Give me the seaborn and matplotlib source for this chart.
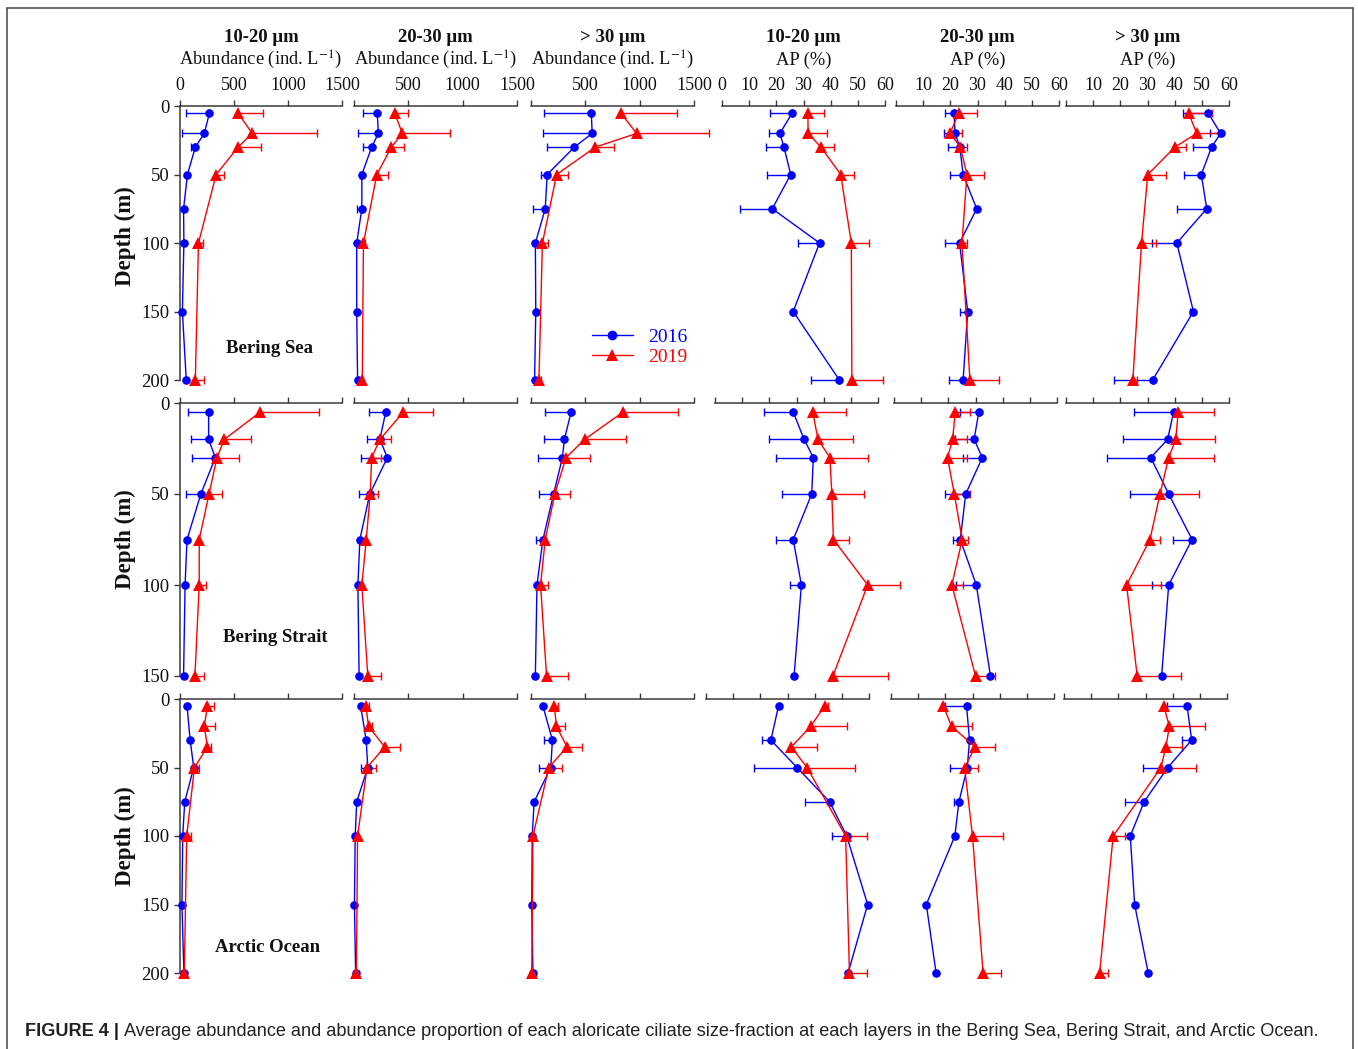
import matplotlib
matplotlib.use("Agg")
import numpy as np
import pandas as pd
import seaborn as sns
import matplotlib.pyplot as plt
from matplotlib.lines import Line2D

# ---------------------------------------------------------------- data
# Sampling depths (m)
BS_DEPTH_2016 = [5, 20, 30, 50, 75, 100, 150, 200]
BS_DEPTH_2019 = [5, 20, 30, 50, 100, 200]
BST_DEPTH_2016 = [5, 20, 30, 50, 75, 100, 150]
BST_DEPTH_2019 = [5, 20, 30, 50, 75, 100, 150]
AO_DEPTH_2016 = [5, 30, 50, 75, 100, 150, 200]
AO_DEPTH_2019 = [5, 20, 35, 50, 100, 200]

# Panel order: abundance 10-20, 20-30, >30 um; AP 10-20, 20-30, >30 um
BS_MEAN_2016 = [
    [273, 225, 142, 69, 33, 36, 22, 58],
    [214, 224, 163, 72, 72, 25, 25, 33],
    [555, 563, 399, 149, 131, 40, 44, 33],
    [25.9, 21.3, 22.8, 25.3, 18.5, 35.9, 26.2, 43.2],
    [21.4, 21.7, 23.5, 24.7, 29.7, 23.4, 26.4, 24.7],
    [52.3, 56.9, 53.6, 49.8, 51.8, 40.8, 46.9, 31.9],
]
BS_SD_2016 = [
    [218, 210, 44, 0, 0, 0, 0, 0],
    [127, 184, 83, 20, 47, 0, 0, 0],
    [435, 454, 254, 58, 109, 0, 0, 0],
    [8.4, 4.0, 6.6, 8.9, 12.0, 8.1, 0.6, 10.5],
    [3.2, 3.9, 4.5, 4.7, 0, 5.5, 3.0, 5.1],
    [9.2, 4.0, 6.8, 6.3, 11.1, 9.0, 1.2, 14.1],
]
BS_MEAN_2019 = [
    [535, 669, 538, 335, 171, 142],
    [373, 445, 344, 210, 87, 76],
    [824, 973, 592, 236, 105, 73],
    [31.6, 31.7, 36.4, 43.7, 47.6, 47.8],
    [23.1, 19.9, 23.7, 26.1, 24.3, 27.2],
    [45.1, 48.1, 40.1, 30.1, 27.8, 24.6],
]
BS_SD_2019 = [
    [229, 604, 211, 76, 44, 76],
    [123, 435, 112, 105, 15, 10],
    [519, 661, 174, 109, 47, 15],
    [6.1, 6.8, 5.0, 4.8, 6.4, 11.3],
    [6.6, 4.4, 2.4, 6.2, 1.7, 10.6],
    [8.8, 8.4, 4.1, 6.8, 5.5, 1.5],
]

BST_MEAN_2016 = [
    [265, 265, 327, 193, 65, 47, 33],
    [292, 238, 307, 145, 54, 36, 47],
    [369, 307, 289, 208, 110, 55, 40],
    [28.8, 32.8, 36.2, 35.6, 28.8, 31.8, 29.1],
    [31.2, 29.5, 32.5, 26.4, 24.4, 30.3, 35.5],
    [39.6, 37.4, 31.2, 37.8, 46.4, 37.8, 35.2],
]
BST_SD_2016 = [
    [189, 163, 214, 138, 0, 0, 0],
    [158, 119, 246, 95, 0, 10, 0],
    [238, 187, 227, 131, 66, 0, 0],
    [10.6, 13.0, 13.9, 11.0, 6.5, 4.1, 0],
    [7.0, 7.0, 7.1, 7.6, 2.5, 7.5, 0],
    [14.4, 16.5, 16.0, 14.4, 7.1, 6.3, 0],
]
BST_MEAN_2019 = [
    [742, 411, 342, 269, 178, 178, 138],
    [455, 238, 163, 149, 113, 72, 127],
    [846, 494, 322, 219, 131, 88, 143],
    [36.0, 37.9, 42.3, 43.0, 43.6, 56.2, 43.4],
    [22.5, 21.6, 19.7, 22.2, 25.1, 21.3, 30.0],
    [41.3, 40.4, 37.8, 34.6, 30.9, 22.3, 26.2],
]
BST_SD_2019 = [
    [545, 244, 200, 120, 0, 66, 87],
    [274, 100, 89, 76, 0, 0, 120],
    [508, 377, 220, 139, 0, 69, 201],
    [12.1, 13.0, 14.2, 11.8, 5.8, 11.8, 20.2],
    [5.5, 5.1, 7.0, 5.8, 2.0, 4.0, 7.2],
    [13.2, 14.5, 16.7, 14.4, 3.8, 12.7, 16.3],
]

AO_MEAN_2016 = [
    [65, 94, 127, 44, 25, 18, 36],
    [61, 112, 127, 25, 11, 4, 15],
    [109, 197, 182, 29, 11, 7, 18],
    [26.7, 23.9, 33.5, 45.5, 51.8, 59.5, 52.3],
    [27.8, 28.9, 28.1, 25.0, 23.5, 13.0, 16.6],
    [45.3, 47.0, 38.2, 29.5, 24.4, 26.0, 31.0],
]
AO_SD_2016 = [
    [0, 0, 0, 0, 0, 0, 0],
    [0, 0, 62, 0, 0, 0, 0],
    [0, 80, 105, 0, 0, 0, 0],
    [0, 3.3, 15.9, 9.1, 5.5, 0, 0],
    [7.8, 0, 6.3, 1.7, 0, 0, 0],
    [7.5, 3.7, 9.3, 7.2, 0, 0, 0],
]
AO_MEAN_2019 = [
    [254, 225, 254, 134, 62, 40],
    [109, 134, 283, 120, 33, 22],
    [215, 234, 332, 164, 18, 7],
    [43.7, 38.5, 31.4, 37.2, 51.4, 52.8],
    [19.2, 22.3, 31.0, 27.1, 30.0, 33.9],
    [36.7, 38.8, 37.5, 35.7, 18.1, 13.1],
]
AO_SD_2019 = [
    [58, 95, 36, 44, 36, 0],
    [29, 29, 138, 83, 0, 0],
    [33, 76, 135, 121, 0, 0],
    [1.3, 13.3, 9.5, 17.6, 7.9, 6.3],
    [0, 7.5, 7.1, 5.0, 11.3, 6.6],
    [0, 13.0, 5.8, 12.9, 4.3, 3.0],
]

REGIONS = ["Bering Sea", "Bering Strait", "Arctic Ocean"]
SIZE_CLASSES = ["10-20 \u03bcm", "20-30 \u03bcm", "> 30 \u03bcm"]
YEARS = ["2016", "2019"]
ABUND_TICKS = [0, 500, 1000, 1500]
AP_TICKS = [0, 10, 20, 30, 40, 50, 60]

# ---------------------------------------------------------------- style
sns.set_theme(style="white")
plt.rcParams["font.family"] = ["Liberation Serif", "DejaVu Serif"]
plt.rcParams["mathtext.fontset"] = "stix"

BLUE = "#0000ff"
RED = "#ff0000"
SPINE = "#3a3a3a"
W, H = 1358, 1049
fig = plt.figure(figsize=(W / 100, H / 100), dpi=100)


def rect(x0, x1, ytop, ybot):
    return [x0 / W, 1 - ybot / H, (x1 - x0) / W, (ybot - ytop) / H]


# row geometry in pixels: top, bottom, max depth, depth ticks
ROWS = [
    (106, 380, 200, [0, 50, 100, 150, 200]),
    (403, 676, 150, [0, 50, 100, 150]),
    (699, 973, 200, [0, 50, 100, 150, 200]),
]
ABUND_COLS = [(180, 342), (354, 517), (531, 694)]
AP_COLS = [
    [(722, 885), (896, 1059), (1066, 1229)],
    [(715, 878), (894, 1057), (1066, 1229)],
    [(706, 869), (891, 1054), (1064, 1227)],
]

DATA = [
    (BS_DEPTH_2016, BS_MEAN_2016, BS_SD_2016, BS_DEPTH_2019, BS_MEAN_2019, BS_SD_2019),
    (BST_DEPTH_2016, BST_MEAN_2016, BST_SD_2016, BST_DEPTH_2019, BST_MEAN_2019, BST_SD_2019),
    (AO_DEPTH_2016, AO_MEAN_2016, AO_SD_2016, AO_DEPTH_2019, AO_MEAN_2019, AO_SD_2019),
]


def draw_errors(ax, depth, mean, sd, color, side):
    d = np.asarray(depth, float)
    m = np.asarray(mean, float)
    e = np.asarray(sd, float)
    keep = e > 0
    if not keep.any():
        return
    zero = np.zeros(keep.sum())
    xerr = [e[keep], zero] if side == "left" else [zero, e[keep]]
    ax.errorbar(m[keep], d[keep], xerr=xerr, fmt="none", ecolor=color,
                elinewidth=1.0, capsize=3.2, capthick=1.0, clip_on=False, zorder=2)


axes_grid = []
for r, (ytop, ybot, ymax, yticks) in enumerate(ROWS):
    d16, m16, s16, d19, m19, s19 = DATA[r]
    cols = ABUND_COLS + AP_COLS[r]
    row_axes = []
    for c in range(6):
        x0, x1 = cols[c]
        ax = fig.add_axes(rect(x0, x1, ytop, ybot))
        ax.set_facecolor("none")
        is_ap = c >= 3
        xmax = 60 if is_ap else 1500

        draw_errors(ax, d16, m16[c], s16[c], BLUE, "left")
        draw_errors(ax, d19, m19[c], s19[c], RED, "right")
        sns.lineplot(x=m16[c], y=d16, orient="y", sort=False, estimator=None,
                     color=BLUE, linewidth=1.0, marker="o", markersize=6.2,
                     markeredgewidth=0, clip_on=False, zorder=3, ax=ax)
        sns.lineplot(x=m19[c], y=d19, orient="y", sort=False, estimator=None,
                     color=RED, linewidth=1.0, marker="^", markersize=8.2,
                     markeredgewidth=0, clip_on=False, zorder=4, ax=ax)

        ax.set_xlim(0, xmax)
        ax.set_ylim(ymax, 0)
        ax.set_xlabel("")
        ax.set_ylabel("")
        ax.grid(False)
        for s in ["right", "bottom"]:
            ax.spines[s].set_visible(False)
        ax.spines["top"].set_color(SPINE)
        ax.spines["top"].set_linewidth(1.1)
        ax.spines["left"].set_visible(c == 0)
        ax.spines["left"].set_color(SPINE)
        ax.spines["left"].set_linewidth(1.1)

        ticks = AP_TICKS if is_ap else ABUND_TICKS
        ax.xaxis.tick_top()
        ax.set_xticks(ticks)
        if r == 0:
            labels = [str(t) for t in ticks]
            if c in (1, 2, 4, 5):
                labels[0] = ""
            ax.set_xticklabels(labels)
        ax.tick_params(axis="x", which="both", top=True, bottom=False,
                       labeltop=(r == 0), labelbottom=False, direction="out",
                       length=4.5, width=1.0, color=SPINE, pad=4,
                       labelsize=13, labelcolor="#111111")
        if c == 0:
            ax.set_yticks(yticks)
            ax.tick_params(axis="y", left=True, right=False, direction="out",
                           length=4.5, width=1.0, color=SPINE, pad=3,
                           labelsize=13.5, labelcolor="#111111")
        else:
            ax.set_yticks([])
        row_axes.append(ax)
    axes_grid.append(row_axes)

# column headers
centers = [(a + b) / 2 for a, b in ABUND_COLS + AP_COLS[0]]
for c, xc in enumerate(centers):
    fig.text(xc / W, 1 - 37 / H, SIZE_CLASSES[c % 3], ha="center", va="center",
             fontsize=13.5, fontweight="bold", color="#111111")
    sub = "Abundance (ind. L$^{-1}$)" if c < 3 else "AP (%)"
    fig.text(xc / W, 1 - 60 / H, sub, ha="center", va="center",
             fontsize=13.3, color="#111111")

# depth labels and region names
for r, (ytop, ybot, ymax, yticks) in enumerate(ROWS):
    yc = (ytop + ybot) / 2 - (7 if r == 0 else 0)
    fig.text(125 / W, 1 - yc / H, "Depth (m)", rotation=90, ha="center",
             va="center", fontsize=16.5, fontweight="bold", color="#111111")
REGION_POS = [(269, 348), (275, 637), (268, 947)]
for name, (px, py) in zip(REGIONS, REGION_POS):
    fig.text(px / W, 1 - py / H, name, ha="center", va="center",
             fontsize=13.5, fontweight="bold", color="#111111")

# legend
handles = [
    Line2D([], [], color=BLUE, lw=1.0, marker="o", markersize=7, markeredgewidth=0),
    Line2D([], [], color=RED, lw=1.0, marker="^", markersize=8, markeredgewidth=0),
]
axes_grid[0][2].legend(handles, YEARS, loc="center left",
                       bbox_to_anchor=(592 / W, 1 - 347 / H),
                       bbox_transform=fig.transFigure, frameon=False,
                       labelcolor=[BLUE, RED], fontsize=14, handlelength=2.1,
                       handletextpad=0.8, labelspacing=0.15, borderpad=0,
                       borderaxespad=0)

# outer frame
frame_kw = dict(color="#555555", lw=1.2, transform=fig.transFigure)
fig.add_artist(Line2D([7 / W, 7 / W], [0, 1 - 8 / H], **frame_kw))
fig.add_artist(Line2D([7 / W, 1353 / W], [1 - 8 / H, 1 - 8 / H], **frame_kw))
fig.add_artist(Line2D([1353 / W, 1353 / W], [0, 1 - 8 / H], **frame_kw))

# caption
renderer = fig.canvas.get_renderer()
fs = 13.0
rest = ("Average abundance and abundance proportion of each aloricate ciliate "
        "size-fraction at each layers in the Bering Sea, Bering Strait, and Arctic Ocean.")
for _ in range(3):
    t1 = fig.text(25 / W, 1 - 1032 / H, "FIGURE 4 |", fontfamily="Liberation Sans",
                  fontweight="bold", fontsize=fs, va="center", color="#222222")
    b1 = t1.get_window_extent(renderer)
    t2 = fig.text((b1.x1 + 5) / W, 1 - 1032 / H, rest, fontfamily="Liberation Sans",
                  fontsize=fs, va="center", color="#222222")
    b2 = t2.get_window_extent(renderer)
    width = b2.x1 - b1.x0
    if abs(width - 1292) < 3:
        break
    t1.remove()
    t2.remove()
    fs *= 1292 / width

fig.savefig("out.png", dpi=100)
